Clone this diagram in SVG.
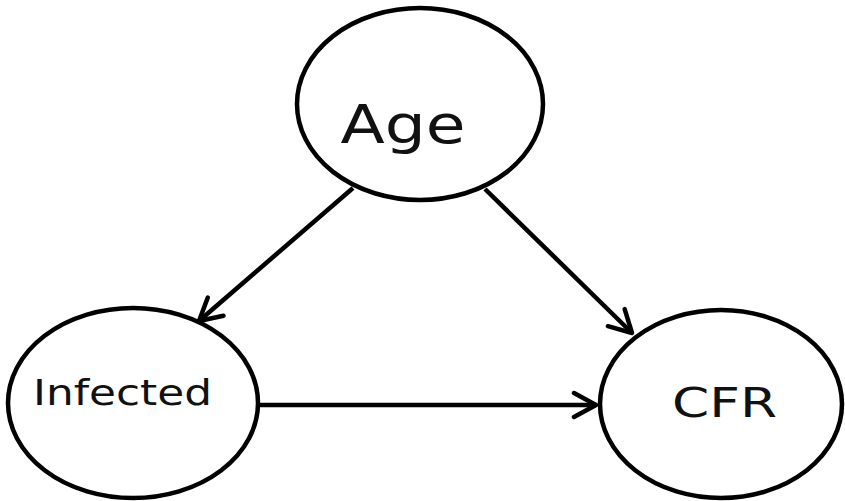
<svg xmlns="http://www.w3.org/2000/svg" width="845" height="501" viewBox="0 0 845 501">
<style>
.node ellipse{fill:#fff;stroke:#000;stroke-width:4.5}
.node text{font-family:"DejaVu Sans",sans-serif;fill:#111}
.edge{stroke:#000;stroke-width:4.5;fill:none;marker-end:url(#arr)}
</style>
<defs>
<marker id="arr" markerUnits="userSpaceOnUse" markerWidth="30" markerHeight="30" viewBox="-26 -15 30 30" refX="0" refY="0" orient="auto">
<path d="M-22,-12 L0,0 L-22,12" fill="none" stroke="#000" stroke-width="4.5" stroke-linecap="round" stroke-linejoin="round"/>
</marker>
</defs>
<rect width="845" height="501" fill="#fff"/>
<g id="connectors">
<line class="edge" x1="353" y1="188" x2="199" y2="321"/>
<line class="edge" x1="485" y1="189" x2="632" y2="333"/>
<line class="edge" x1="258" y1="405" x2="596" y2="405"/>
</g>
<g id="age" class="node">
<ellipse cx="420" cy="104" rx="123" ry="96"/>
<text x="403" y="143" font-size="53" text-anchor="middle" textLength="125" lengthAdjust="spacingAndGlyphs">Age</text>
</g>
<g id="infected" class="node">
<ellipse cx="133" cy="403" rx="125" ry="95"/>
<text x="122.5" y="405" font-size="35" text-anchor="middle" textLength="179" lengthAdjust="spacingAndGlyphs">Infected</text>
</g>
<g id="cfr" class="node">
<ellipse cx="721" cy="404" rx="121" ry="94"/>
<text x="724.5" y="417" font-size="41" text-anchor="middle" textLength="105" lengthAdjust="spacingAndGlyphs">CFR</text>
</g>
</svg>
